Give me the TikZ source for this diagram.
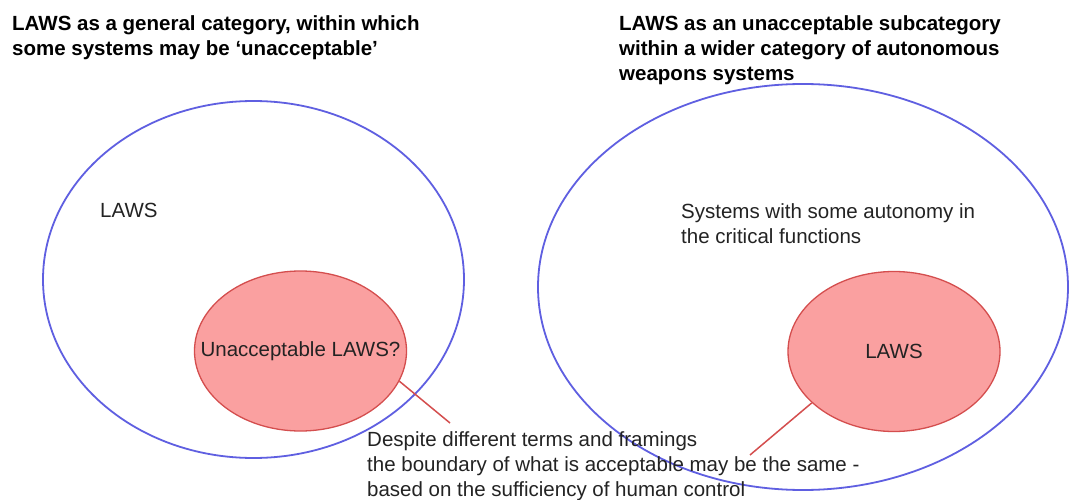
\documentclass[tikz,border=0pt]{standalone}
\usepackage{fontspec}
\setmainfont{Liberation Sans}
\usetikzlibrary{shapes.geometric}
\definecolor{bl}{RGB}{95,95,225}
\definecolor{rf}{RGB}{250,160,160}
\definecolor{rd}{RGB}{212,78,78}
\definecolor{tx}{RGB}{35,35,35}
\begin{document}
\begin{tikzpicture}[x=1pt,y=-1pt,
  bigell/.style={ellipse, draw=bl, line width=1.8pt, inner sep=0pt},
  smallell/.style={ellipse, draw=rd, fill=rf, line width=1.3pt, inner sep=0pt,
    minimum width=212pt, minimum height=160pt, text=tx,
    font=\fontsize{20.5}{25}\selectfont},
  lbl/.style={inner sep=0pt, anchor=north west, align=left, text=tx,
    font=\fontsize{20.5}{25}\selectfont},
  ttl/.style={inner sep=0pt, anchor=north west, align=left, text=black,
    font=\fontsize{20.5}{25}\selectfont\bfseries},
  link/.style={draw=rd, line width=1.5pt}]
\useasboundingbox[fill=white] (0,0) rectangle (1077,500);

% titles
\node[ttl] (t1) at (12,15) {LAWS as a general category, within which\\some systems may be ‘unacceptable’};
\node[ttl] (t2) at (619,15) {LAWS as an unacceptable subcategory\\within a wider category of autonomous\\weapons systems};

% inner red ellipses
\node[smallell] (ua) at (300.5,351) {\makebox[0pt]{Unacceptable LAWS?}};
\node[smallell] (ul) at (894,351.5) {\makebox[0pt]{LAWS}};

% outer blue ellipses
\node[bigell, minimum width=421pt, minimum height=357pt] (blueL) at (253.5,279.5) {};
\node[bigell, minimum width=530pt, minimum height=406pt] (blueR) at (803,287) {};

% labels
\node[lbl] (lawsL) at (100,203) {LAWS};
\node[lbl] (sys) at (681,203) {Systems with some autonomy in\\the critical functions};

% connectors
\coordinate (c1) at (450,423);
\coordinate (c2) at (750,455);
\draw[link] (ua.-17) -- (c1);
\draw[link] (ul.212) -- (c2);

\node[lbl] (note) at (367,431) {Despite different terms and framings\\the boundary of what is acceptable may be the same -\\based on the sufficiency of human control};
\end{tikzpicture}
\end{document}
